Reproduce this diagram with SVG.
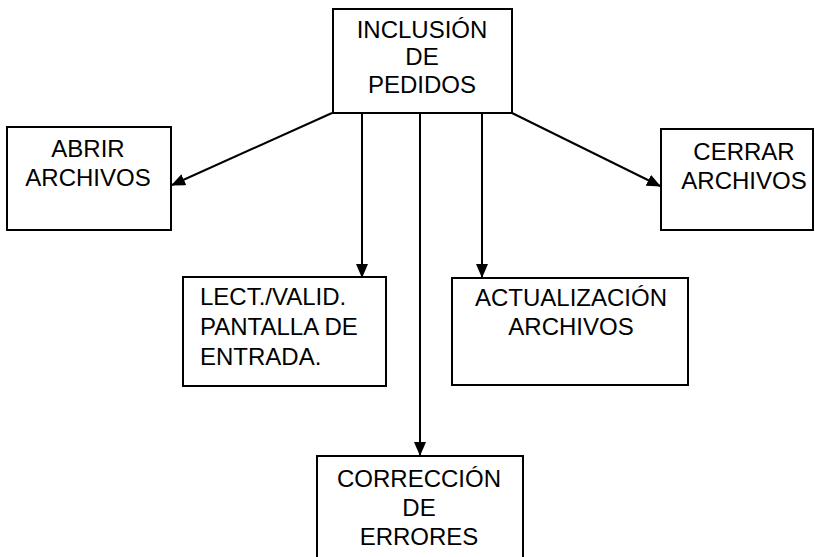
<svg xmlns="http://www.w3.org/2000/svg" width="815" height="557" viewBox="0 0 815 557">
<style>
.box{fill:#fff;stroke:#000;stroke-width:2}
.lbl{font-family:"Liberation Sans",Arial,sans-serif;font-size:24px;fill:#000}
.c{text-anchor:middle}
.edge{stroke:#000;stroke-width:2;fill:none;marker-end:url(#arr)}
</style>
<defs>
<marker id="arr" viewBox="0 0 14 12" refX="13" refY="6" markerWidth="14" markerHeight="12" markerUnits="userSpaceOnUse" orient="auto">
<path d="M0,0 L14,6 L0,12 Z" fill="#000"/>
</marker>
</defs>
<rect width="815" height="557" fill="#fff"/>
<g id="connectors">
<line class="edge" x1="332" y1="113" x2="172" y2="185"/>
<line class="edge" x1="362" y1="113" x2="362" y2="277"/>
<line class="edge" x1="420" y1="113" x2="420" y2="455"/>
<line class="edge" x1="482" y1="113" x2="482" y2="277"/>
<line class="edge" x1="512" y1="113" x2="660" y2="186"/>
</g>
<g id="inclusion">
<rect class="box" x="333" y="9" width="179" height="104"/>
<text class="lbl c" x="422" y="38">INCLUSIÓN</text>
<text class="lbl c" x="422" y="65">DE</text>
<text class="lbl c" x="422" y="93">PEDIDOS</text>
</g>
<g id="abrir">
<rect class="box" x="7" y="127" width="164" height="103"/>
<text class="lbl c" x="88" y="157">ABRIR</text>
<text class="lbl c" x="88" y="186">ARCHIVOS</text>
</g>
<g id="cerrar">
<rect class="box" x="661" y="129" width="152" height="101"/>
<text class="lbl c" x="744" y="160">CERRAR</text>
<text class="lbl c" x="744" y="189">ARCHIVOS</text>
</g>
<g id="lectura">
<rect class="box" x="183" y="277" width="203" height="109"/>
<text class="lbl" x="200" y="305">LECT./VALID.</text>
<text class="lbl" x="200" y="335">PANTALLA DE</text>
<text class="lbl" x="200" y="365">ENTRADA.</text>
</g>
<g id="actualizacion">
<rect class="box" x="452" y="278" width="236" height="107"/>
<text class="lbl c" x="571" y="306">ACTUALIZACIÓN</text>
<text class="lbl c" x="571" y="335">ARCHIVOS</text>
</g>
<g id="correccion">
<rect class="box" x="317" y="456" width="206" height="110"/>
<text class="lbl c" x="419" y="487">CORRECCIÓN</text>
<text class="lbl c" x="419" y="516">DE</text>
<text class="lbl c" x="419" y="545">ERRORES</text>
</g>
</svg>
